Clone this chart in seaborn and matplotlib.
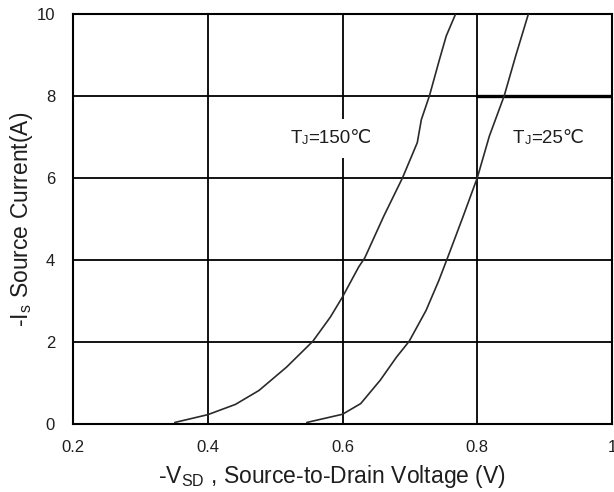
import matplotlib
matplotlib.use("Agg")
import matplotlib.pyplot as plt
import seaborn as sns
import pandas as pd

# Data
v_150 = [0.351, 0.400, 0.441, 0.476, 0.517, 0.556, 0.582, 0.600, 0.624, 0.633, 0.661, 0.689, 0.711, 0.717, 0.729, 0.744, 0.754, 0.768]
i_150 = [0.04, 0.23, 0.48, 0.82, 1.39, 2.02, 2.61, 3.10, 3.83, 4.05, 5.06, 6.00, 6.86, 7.42, 8.00, 8.89, 9.46, 10.0]
v_25 = [0.547, 0.600, 0.627, 0.656, 0.680, 0.699, 0.724, 0.743, 0.757, 0.779, 0.800, 0.818, 0.840, 0.857, 0.876]
i_25 = [0.04, 0.24, 0.50, 1.07, 1.63, 2.02, 2.77, 3.50, 4.10, 5.06, 6.00, 7.02, 8.00, 8.97, 10.0]
x_ticks = [0.2, 0.4, 0.6, 0.8, 1.0]
x_tick_labels = ["0.2", "0.4", "0.6", "0.8", "1"]
y_ticks = [0, 2, 4, 6, 8, 10]
y_tick_labels = ["0", "2", "4", "6", "8", "10"]
labels = [("150℃", 0.523, 6.86), ("25℃", 0.853, 6.84)]

df = pd.concat([
    pd.DataFrame({"V": v_150, "I": i_150, "T": "150"}),
    pd.DataFrame({"V": v_25, "I": i_25, "T": "25"}),
])

sns.set_theme(style="white")
plt.rcParams["font.family"] = ["Liberation Sans", "DejaVu Sans", "Noto Sans CJK SC"]
plt.rcParams["mathtext.fontset"] = "custom"
plt.rcParams["mathtext.rm"] = "Liberation Sans"

TXT = "#1e1e1e"
fig = plt.figure(figsize=(6.14, 4.92), dpi=100)
ax = fig.add_axes([0.119, 0.138, 0.8777, 0.834])

for yv in y_ticks[1:-1]:
    ax.axhline(yv, color="black", lw=1.3, zorder=1)
for xv in x_ticks[1:-1]:
    ax.axvline(xv, color="black", lw=1.3, zorder=1)
ax.axhline(8, xmin=0.75, xmax=1.0, color="black", lw=2.4, zorder=1)

sns.lineplot(data=df, x="V", y="I", units="T", estimator=None, color="#2a2a2a",
             lw=1.2, ax=ax, sort=False, zorder=3)

ax.set_xlim(0.2, 1.0)
ax.set_ylim(0, 10)
ax.set_xticks(x_ticks)
ax.set_xticklabels(x_tick_labels)
ax.set_yticks(y_ticks)
ax.set_yticklabels(y_tick_labels)
ax.tick_params(axis="x", length=0, pad=11.5, labelsize=12, colors=TXT)
ax.tick_params(axis="y", length=0, pad=13, labelsize=12, colors=TXT)
for s in ax.spines.values():
    s.set_color("black")
    s.set_linewidth(1.5)

ax.set_xlabel(r"-V$_{\mathregular{SD}}$ , Source-to-Drain Voltage (V)", fontsize=16.5, color=TXT)
ax.set_ylabel(r"-I$_{\mathregular{s}}$ Source Current(A)", fontsize=16.5, color=TXT)
ax.xaxis.set_label_coords(0.48, -0.095)
ax.yaxis.set_label_coords(-0.07, 0.5)

fs = 13.5
for rest, lx, ly in labels:
    t1 = ax.text(lx, ly, "T", fontsize=fs, ha="left", va="baseline", color=TXT, zorder=5)
    t2 = ax.annotate("J", xy=(1.0, 0.0), xycoords=t1, fontsize=fs * 0.68,
                     ha="left", va="bottom", color=TXT, zorder=5)
    ax.annotate("=" + rest, xy=(1.0, 0.0), xycoords=(t2, t1), fontsize=fs,
                ha="left", va="bottom", color=TXT, zorder=4,
                bbox=dict(facecolor="white", edgecolor="none", pad=8))

fig.savefig("out.png", dpi=100)
